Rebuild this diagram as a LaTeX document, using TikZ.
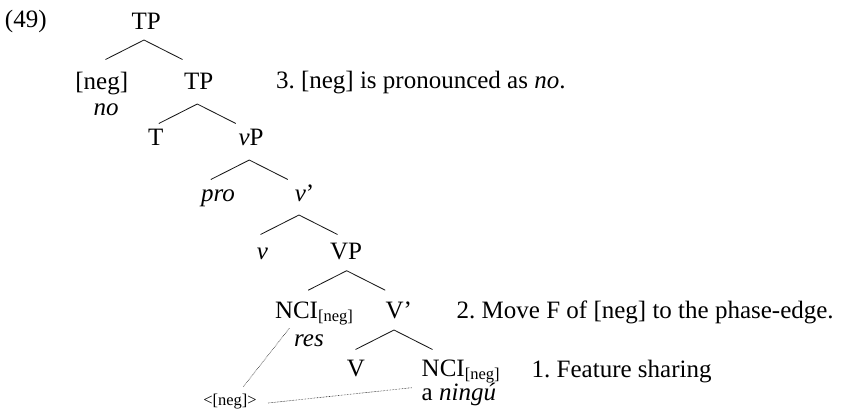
\documentclass[tikz,border=0pt]{standalone}
\usepackage{fontspec}
\setmainfont{Liberation Serif}
\frenchspacing
\newcommand\subneg{\raisebox{-3pt}{\fontsize{16.5}{18}\selectfont[neg]}}
\newcommand\branchat[3]{\draw[branchline] ([shift={(#2,#3)}]#1.base) -- ++(-38.5,19.5) ([shift={(#2,#3)}]#1.base) -- ++(38.5,19.5);}
\begin{document}
\begin{tikzpicture}[x={(1pt,0)},y={(0,-1pt)},
  every node/.style={inner sep=0pt,outer sep=0pt,font=\fontsize{25}{30}\selectfont},
  lbl/.style={anchor=base},
  lblw/.style={anchor=base west},
  smalltext/.style={font=\fontsize{16.5}{18}\selectfont},
  branchline/.style={line width=0.85pt,black!90},
  dotline/.style={line width=0.6pt,black!85,dash pattern=on 0.6pt off 0.9pt}]
\useasboundingbox (0,0) rectangle (845,413);
\node[lblw] (ex) at (5,27) {(49)};
\node[lbl] (tp1) at (146.3,29.5) {TP};
\node[lbl] (neg) at (101.7,89) {[neg]};
\node[lbl] (no) at (106,115) {\textit{no}};
\node[lbl] (tp2) at (198.7,89) {TP};
\node[lblw] (n3) at (276,88) {3. [neg] is pronounced as \textit{no}.};
\node[lbl] (t) at (155.7,145.7) {T};
\node[lbl] (vp) at (251,145.7) {\textit{v}P};
\node[lbl] (pro) at (218,201) {\textit{pro}};
\node[lbl] (vbar) at (304.5,201) {\textit{v}’};
\node[lbl] (v) at (262.5,259) {\textit{v}};
\node[lbl] (VP) at (346,259) {VP};
\node[lblw] (nci1) at (275,318) {NCI\subneg};
\node[lbl] (res) at (309,346.7) {\textit{res}};
\node[lblw] (Vbar) at (385.5,318) {V’};
\node[lblw] (n2) at (456.7,318) {2. Move F of [neg] to the phase-edge.};
\node[lbl] (V) at (356,376) {V};
\node[lblw] (nci2) at (421.7,376.7) {NCI\subneg};
\node[lblw] (ningu) at (421.7,400.5) {a \textit{ningú}};
\node[lblw] (n1) at (531.7,377.7) {1. Feature sharing};
\node[lblw,smalltext] (trace) at (203.3,405) {<[neg]>};
\branchat{tp1}{-2.3}{10.5}
\branchat{tp2}{-1.4}{15}
\branchat{vp}{-1.7}{14.3}
\branchat{vbar}{-5.5}{14}
\branchat{VP}{0.7}{11.7}
\draw[branchline] ([shift={(8.5,12)}]Vbar.base west) -- ++(-38.5,19.5) ([shift={(8.5,12)}]Vbar.base west) -- ++(38.5,19.5);
\draw[dotline] ([shift={(14.3,10.3)}]nci1.base west) -- ([shift={(40,-18.3)}]trace.base west);
\draw[dotline] ([shift={(11.3,-2)}]trace.base east) -- ([shift={(-10,11)}]nci2.base west);
\end{tikzpicture}
\end{document}
